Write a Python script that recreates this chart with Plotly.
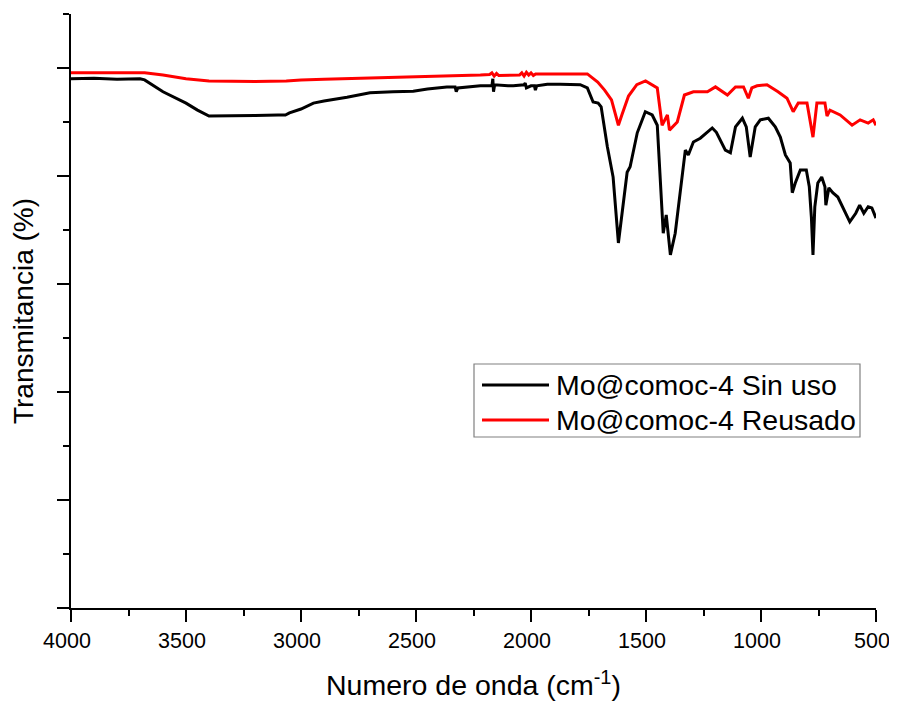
import plotly.graph_objects as go

# Wavenumbers (cm^-1) and transmittance (arbitrary %)
wn_sin_uso = [4000, 3900, 3800, 3700, 3680, 3600, 3500, 3450, 3400, 3300, 3200, 3100, 3068, 3050, 3000,
              2946, 2900, 2800, 2700, 2600, 2512, 2450, 2366, 2330, 2325, 2318, 2220, 2170, 2166, 2163,
              2158, 2100, 2077, 2030, 2025, 2020, 2000, 1985, 1981, 1975, 1929, 1873, 1786, 1755, 1730,
              1708, 1695, 1668, 1643, 1620, 1605, 1582, 1569, 1538, 1503, 1473, 1451, 1438, 1425, 1412,
              1403, 1394, 1373, 1346, 1329, 1316, 1294, 1264, 1212, 1194, 1155, 1133, 1111, 1081, 1064,
              1047, 1025, 1003, 968, 938, 916, 894, 873, 864, 851, 829, 803, 790, 781, 774, 766, 753,
              736, 722, 718, 705, 688, 666, 645, 614, 588, 571, 553, 534, 518, 500]
t_sin_uso = [98.0, 98.1, 97.9, 98.0, 97.8, 95.6, 93.5, 92.2, 91.1, 91.1, 91.2, 91.3, 91.3, 91.7, 92.4,
             93.5, 93.9, 94.6, 95.4, 95.6, 95.7, 96.1, 96.5, 96.5, 95.6, 96.3, 96.7, 96.7, 98.0, 95.6,
             96.9, 96.7, 96.7, 96.9, 97.2, 96.3, 96.7, 96.7, 95.9, 96.7, 97.0, 97.0, 96.9, 96.3, 93.7,
             93.5, 92.8, 85.4, 79.8, 67.6, 72.8, 80.7, 81.7, 88.0, 91.9, 91.3, 89.4, 79.8, 69.4, 72.8,
             69.4, 65.4, 69.4, 78.7, 84.8, 83.9, 86.3, 87.0, 88.9, 88.1, 84.8, 84.3, 89.1, 90.7, 89.1,
             83.5, 89.1, 90.4, 90.7, 89.1, 87.2, 83.9, 82.4, 76.9, 78.7, 81.1, 81.1, 78.0, 72.4, 65.4,
             74.3, 78.7, 79.8, 78.0, 74.6, 77.8, 76.9, 76.1, 74.3, 71.5, 73.1, 74.6, 73.1, 74.3, 74.1, 72.2]

wn_reusado = [4000, 3800, 3680, 3600, 3500, 3400, 3200, 3064, 3000, 2900, 2800, 2512, 2220, 2180, 2170,
              2160, 2150, 2140, 2050, 2040, 2030, 2020, 2010, 2000, 1990, 1980, 1873, 1755, 1710, 1680,
              1650, 1620, 1605, 1576, 1540, 1502, 1451, 1440, 1430, 1407, 1398, 1364, 1333, 1294, 1233,
              1198, 1146, 1111, 1076, 1055, 1040, 1017, 974, 926, 887, 860, 838, 800, 774, 757, 722,
              713, 700, 656, 604, 569, 534, 512, 500]
t_reusado = [99.1, 99.1, 99.1, 98.7, 98.0, 97.6, 97.5, 97.6, 97.8, 97.9, 98.0, 98.3, 98.7, 98.8, 99.1,
             98.5, 99.0, 98.6, 98.7, 99.1, 98.5, 99.2, 98.7, 99.1, 98.6, 98.9, 98.9, 98.9, 97.4, 95.9,
             94.1, 89.4, 91.3, 94.8, 96.9, 97.6, 96.3, 93.1, 89.4, 91.3, 88.5, 90.0, 95.0, 95.6, 95.6,
             96.5, 95.0, 96.5, 96.5, 94.4, 96.3, 96.7, 96.9, 95.6, 94.4, 91.9, 93.5, 93.5, 87.2, 93.5,
             93.5, 91.1, 92.2, 91.3, 89.4, 90.4, 89.8, 90.4, 89.4]

series_names = ["Mo@comoc-4 Sin uso", "Mo@comoc-4 Reusado"]
series_colors = ["black", "#ff0000"]
x_ticks = [4000, 3500, 3000, 2500, 2000, 1500, 1000, 500]

FONT = "Liberation Sans, Arial, sans-serif"
# The page body has an 8px margin, so the figure is sized/offset to compensate
OFF = 8
W, H = 897 - OFF, 704 - OFF
ML, MT = 71 - OFF, 14 - OFF
PW, PH = 805, 594
MR, MB = W - ML - PW, H - MT - PH


def px(xp):
    # page pixel -> paper x
    return (xp - OFF - ML) / PW


def py(yp):
    # page pixel -> paper y
    return (MT + PH - (yp - OFF)) / PH


fig = go.Figure()
for wn, t, name, col in [(wn_sin_uso, t_sin_uso, series_names[0], series_colors[0]),
                         (wn_reusado, t_reusado, series_names[1], series_colors[1])]:
    fig.add_trace(go.Scatter(x=wn, y=t, mode="lines", name=name,
                             line=dict(color=col, width=3), showlegend=False))

# Legend drawn as a boxed key (decoration)
shapes = [dict(type="rect", xref="paper", yref="paper",
               x0=px(474), x1=px(860), y0=py(364), y1=py(437),
               line=dict(color="#808080", width=1.2), fillcolor="white", layer="above")]
annotations = []
for i, (name, col) in enumerate(zip(series_names, series_colors)):
    yy = 385 + 35 * i
    shapes.append(dict(type="line", xref="paper", yref="paper",
                       x0=px(482), x1=px(549), y0=py(yy), y1=py(yy),
                       line=dict(color=col, width=3), layer="above"))
    annotations.append(dict(xref="paper", yref="paper", x=px(554), y=py(yy),
                            xanchor="left", yanchor="middle", showarrow=False,
                            text=name, font=dict(size=28.5, family=FONT, color="black")))

fig.update_layout(
    width=W, height=H,
    margin=dict(l=ML, r=MR, t=MT, b=MB, pad=0),
    paper_bgcolor="white", plot_bgcolor="white",
    font=dict(family=FONT, color="black"),
    showlegend=False,
    shapes=shapes, annotations=annotations,
)
fig.update_xaxes(
    range=[4000, 500], tickvals=x_ticks, ticktext=[str(v) for v in x_ticks],
    automargin=False,
    showline=True, linecolor="black", linewidth=1.5, mirror=False,
    ticks="outside", ticklen=12, tickwidth=1.5, tickcolor="black",
    tickfont=dict(size=21.5, family=FONT), ticklabelshift=4,
    minor=dict(dtick=250, tick0=500, ticks="outside", ticklen=6, tickwidth=1.5, tickcolor="black"),
    showgrid=False, zeroline=False,
    title=dict(text="Numero de onda (cm<sup>-1</sup>)", font=dict(size=28.5, family=FONT), standoff=24),
)
fig.update_yaxes(
    range=[0, 110], tick0=0, dtick=20, showticklabels=False,
    automargin=False,
    showline=True, linecolor="black", linewidth=1.5, mirror=False,
    ticks="outside", ticklen=12, tickwidth=1.5, tickcolor="black",
    minor=dict(dtick=10, tick0=0, ticks="outside", ticklen=6, tickwidth=1.5, tickcolor="black"),
    showgrid=False, zeroline=False,
    title=dict(text="Transmitancia (%)", font=dict(size=28, family=FONT), standoff=20),
)

fig.write_html("out.html")
